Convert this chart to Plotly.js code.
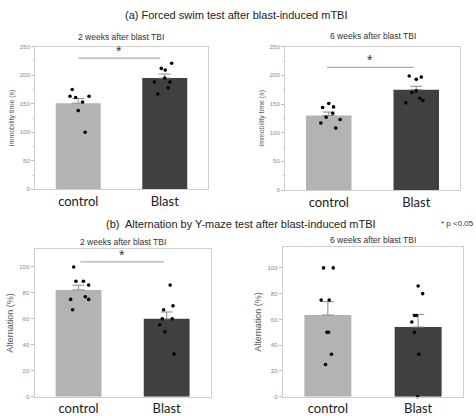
<!DOCTYPE html>
<html>
<head>
<meta charset="utf-8">
<script src="https://cdn.plot.ly/plotly-3.0.1.min.js"></script>
<style>html,body{margin:0;padding:0;background:#fff}#chart{width:476px;height:416px}</style>
</head>
<body>
<div id="chart"></div>
<script>
// ---------- data ----------
const groups = ["control", "Blast"];

// (a) Forced swim test, immobility time (s)
const fst2wMeans = [151, 195];
const fst2wSem = [8, 7];
const fst2wCtrl = [175, 163, 161, 163, 153, 138, 100];
const fst2wCtrlJit = [-0.07, -0.095, -0.03, 0.125, 0.05, 0, 0.08];
const fst2wBlast = [221, 212, 209, 195, 188, 188, 178, 167];
const fst2wBlastJit = [0.08, -0.04, 0.005, 0, -0.12, 0.06, 0.04, -0.08];

const fst6wMeans = [130, 175];
const fst6wSem = [6, 6];
const fst6wCtrl = [144, 151, 145, 127, 134, 123, 117, 108];
const fst6wCtrlJit = [-0.07, 0, 0.055, -0.03, 0.045, 0.13, -0.09, 0.08];
const fst6wBlast = [199, 193, 197, 170, 173, 160, 156, 152];
const fst6wBlastJit = [-0.08, 0, 0.057, -0.05, 0, 0.04, 0.076, -0.12];

// (b) Y-maze alternation (%)
const ym2wMeans = [82.3, 60];
const ym2wSem = [3.6, 5.3];
const ym2wCtrl = [100, 89, 89, 86, 75, 77, 75, 67];
const ym2wCtrlJit = [-0.055, -0.03, 0.055, 0.115, -0.09, 0.077, 0.115, -0.067];
const ym2wBlast = [86, 67, 70, 60, 60, 55.5, 50, 33];
const ym2wBlastJit = [0.04, -0.034, 0.072, -0.05, 0.064, -0.08, -0.02, 0.083];

const ym6wMeans = [63.4, 54.1];
const ym6wSem = [10.4, 9.8];
const ym6wCtrl = [100, 100, 75, 75, 50, 50, 33, 25];
const ym6wCtrlJit = [-0.048, 0.06, -0.074, 0.015, -0.01, 0.007, 0.04, -0.026];
const ym6wBlast = [86, 80, 63, 63, 58, 50, 33, 0];
const ym6wBlastJit = [0.0, 0.05, -0.04, -0.02, -0.07, -0.04, 0.007, -0.007];

// significance brackets: [y value, x start, x end]
const sigFst2w = [230, 0, 0.95];
const sigFst6w = [214, -0.02, 0.97];
const sigYm2w = [103.9, 0.02, 0.97];

const panelTitles = ["2 weeks after blast TBI", "6 weeks after blast TBI", "2 weeks after blast TBI", "6 weeks after blast TBI"];
const yTitles = ["Immobility time (s)", "Immobility time (s)", "Alternation (%)", "Alternation (%)"];
const yRanges = [[0, 250], [0, 250], [0, 113.6], [0, 116]];

// ---------- styling ----------
const ctrlColor = "#b3b3b3";
const blastColor = "#404040";
const frameColor = "#cfcfcf";
const FONT = "Liberation Sans, Arial, sans-serif";

const panels = [
  {means: fst2wMeans, sem: fst2wSem, c: fst2wCtrl, cj: fst2wCtrlJit, b: fst2wBlast, bj: fst2wBlastJit, sig: sigFst2w},
  {means: fst6wMeans, sem: fst6wSem, c: fst6wCtrl, cj: fst6wCtrlJit, b: fst6wBlast, bj: fst6wBlastJit, sig: sigFst6w},
  {means: ym2wMeans, sem: ym2wSem, c: ym2wCtrl, cj: ym2wCtrlJit, b: ym2wBlast, bj: ym2wBlastJit, sig: sigYm2w},
  {means: ym6wMeans, sem: ym6wSem, c: ym6wCtrl, cj: ym6wCtrlJit, b: ym6wBlast, bj: ym6wBlastJit, sig: null}
];

const xDomains = [[35/476, 208/476], [285/476, 460/476], [34.5/476, 210.7/476], [282.7/476, 463.3/476]];
const yDomains = [[1-189.3/416, 1-46.7/416], [1-190/416, 1-46.7/416], [1-396.7/416, 1-249.3/416], [1-396.7/416, 1-247.3/416]];
const titleShift = [10, 11, 7, 7];

const traces = [];
const shapes = [];
const annotations = [];
const layout = {
  width: 476, height: 416,
  margin: {l: 0, r: 0, t: 0, b: 0},
  paper_bgcolor: "#fff", plot_bgcolor: "#fff",
  showlegend: false,
  font: {family: FONT, color: "#333"}
};

panels.forEach((p, i) => {
  const n = i + 1;
  const xa = "x" + (n === 1 ? "" : n);
  const ya = "y" + (n === 1 ? "" : n);
  traces.push({
    type: "bar", x: [0, 1], y: p.means, xaxis: xa, yaxis: ya,
    width: 0.52,
    marker: {color: [ctrlColor, blastColor], line: {width: 0}},
    error_y: {type: "data", symmetric: false, array: p.sem, arrayminus: [0, 0], color: "#8a8a8a", thickness: 1, width: 6},
    hoverinfo: "skip"
  });
  traces.push({
    type: "scatter", mode: "markers", xaxis: xa, yaxis: ya,
    x: p.cj.map(d => 0 + d).concat(p.bj.map(d => 1 + d)),
    y: p.c.concat(p.b),
    marker: {color: "#000", size: 3.6},
    cliponaxis: false, hoverinfo: "skip"
  });
  layout["xaxis" + (n === 1 ? "" : n)] = {
    domain: xDomains[i], anchor: ya, range: [-0.5, 1.5],
    tickvals: [0, 1], ticktext: groups, ticks: "", showgrid: false, zeroline: false,
    showline: true, mirror: true, linecolor: frameColor, linewidth: 1,
    tickfont: {family: "Lato, Carlito, sans-serif", size: 13, color: "#222"},
    fixedrange: true
  };
  layout["yaxis" + (n === 1 ? "" : n)] = {
    domain: yDomains[i], anchor: xa, range: yRanges[i],
    dtick: i < 2 ? 50 : 20, ticks: "outside", ticklen: 3, tickcolor: "#bbb", tickwidth: 1,
    minor: i < 2 ? {dtick: 25, ticks: "outside", ticklen: 2, tickcolor: "#ddd"} : undefined,
    showgrid: false, zeroline: false,
    showline: true, mirror: true, linecolor: frameColor, linewidth: 1,
    tickfont: {size: 6, color: "#888"},
    title: {text: yTitles[i], font: {size: i < 2 ? 7 : 9, color: "#555"}, standoff: 4},
    fixedrange: true
  };
  annotations.push({
    xref: "paper", yref: "paper",
    x: (xDomains[i][0] + xDomains[i][1]) / 2, y: yDomains[i][1],
    yshift: titleShift[i], text: panelTitles[i], showarrow: false,
    font: {size: 8.5, color: "#333"}, xanchor: "center", yanchor: "middle"
  });
  if (p.sig) {
    shapes.push({type: "line", xref: xa, yref: ya, x0: p.sig[1], x1: p.sig[2], y0: p.sig[0], y1: p.sig[0], line: {color: "#999", width: 1}});
    annotations.push({xref: xa, yref: ya, x: (p.sig[1] + p.sig[2]) / 2, y: p.sig[0], text: "*", showarrow: false, yanchor: "bottom", yshift: -3, font: {size: 14, color: "#333"}});
  }
});

annotations.push({xref: "paper", yref: "paper", x: 236/476, y: 1 - 15/416, text: "(a) Forced swim test after blast-induced mTBI", showarrow: false, xanchor: "center", yanchor: "middle", font: {size: 11, color: "#222"}});
annotations.push({xref: "paper", yref: "paper", x: 241/476, y: 1 - 223.5/416, text: "(b)  Alternation by Y-maze test after blast-induced mTBI", showarrow: false, xanchor: "center", yanchor: "middle", font: {size: 11, color: "#222"}});
annotations.push({xref: "paper", yref: "paper", x: 476/476, y: 1 - 223.5/416, text: "* p <0.05", showarrow: false, xanchor: "right", yanchor: "middle", font: {size: 8, color: "#333"}});

layout.shapes = shapes;
layout.annotations = annotations;

Plotly.newPlot("chart", traces, layout, {displayModeBar: false, staticPlot: true});
</script>
</body>
</html>
